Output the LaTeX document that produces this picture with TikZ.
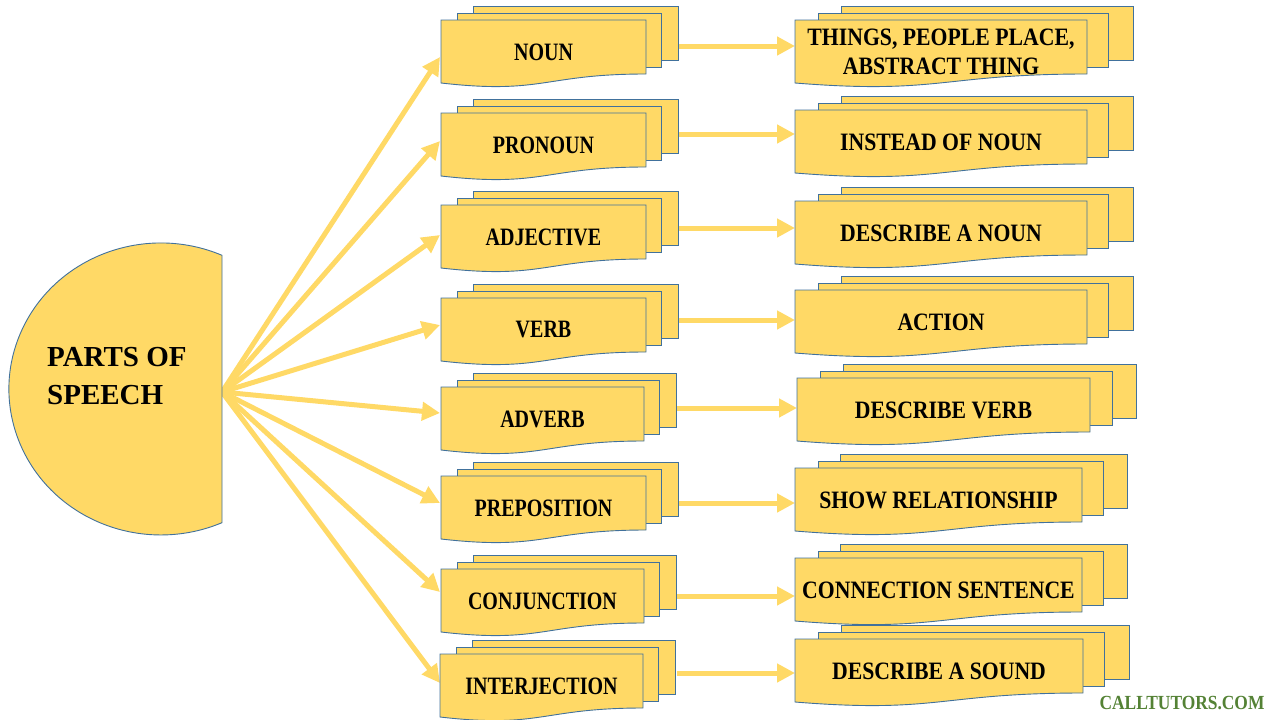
\documentclass[tikz,border=0pt]{standalone}
\usepackage{fontspec}
\setmainfont{Liberation Serif}
\newfontfamily\lfont[FakeStretch=0.8]{Liberation Serif}
\newfontfamily\rfont[FakeStretch=0.87]{Liberation Serif}
\newfontfamily\tfont{Liberation Serif}
\usetikzlibrary{arrows.meta}
\definecolor{gold}{RGB}{255,217,102}
\definecolor{edgeblue}{RGB}{65,113,156}
\definecolor{wmgreen}{RGB}{84,130,53}
\tikzset{
  docline/.style={draw=edgeblue, fill=gold, line width=0.9pt},
  yarrow/.style={draw=gold, line width=5pt, -{Triangle[length=18pt,width=18pt]}},
  ltext/.style={font=\lfont\bfseries\fontsize{25}{28}\selectfont, inner sep=0pt, align=center},
  rtext/.style={font=\rfont\bfseries\fontsize{25}{29}\selectfont, inner sep=0pt, align=center},
}
\newcommand\mdoc[6]{%
  \draw[docline] ({#2+0.16*#4},{#3-14}) rectangle ({#2+1.16*#4},{#3+40});
  \draw[docline] ({#2+0.08*#4},{#3-7}) rectangle ({#2+1.075*#4},{#3+47});
  \draw[docline] (#2,#3) -- ({#2+#4},#3) -- ({#2+#4},{#3+54})
     .. controls ({#2+0.5*#4},{#3+54}) and ({#2+0.5*#4},{#3+74.7}) .. (#2,{#3+63}) -- cycle;
  \node[#5] (#1) at ({#2+0.5*#4},{#3+32}) {#6};
}
\begin{document}
\begin{tikzpicture}[x=1pt,y=-1pt]
\useasboundingbox (0,0) rectangle (1280,720);
% hub and connection points
\coordinate (hub) at (222,392);
\foreach \i/\ty in {1/57,2/141,3/235,4/325,5/413,6/503,7/592,8/683}{
  \coordinate (l\i in) at (440,\ty);
}
\coordinate (l1out) at (679,46);   \coordinate (r1in) at (795,46);
\coordinate (l2out) at (679,134);  \coordinate (r2in) at (795,134);
\coordinate (l3out) at (679,228);  \coordinate (r3in) at (795,228);
\coordinate (l4out) at (679,320);  \coordinate (r4in) at (795,320);
\coordinate (l5out) at (677,408);  \coordinate (r5in) at (797,408);
\coordinate (l6out) at (679,503);  \coordinate (r6in) at (795,503);
\coordinate (l7out) at (677,596);  \coordinate (r7in) at (795,596);
\coordinate (l8out) at (677,673);  \coordinate (r8in) at (795,673);
% arrows
\foreach \i in {1,...,8}{
  \draw[yarrow] (hub) -- (l\i in);
  \draw[yarrow] (l\i out) -- (r\i in);
}
% main shape
\draw[docline] (222,255.3) arc[start angle=-66.3, end angle=-293.7, x radius=152, y radius=146] -- cycle;
\node[font=\tfont\bfseries\fontsize{29}{38}\selectfont, align=left, anchor=west, inner sep=0pt] (title) at (47,376) {PARTS OF\\SPEECH};
% left documents
\mdoc{l1}{441}{20}{205}{ltext}{NOUN}
\mdoc{l2}{441}{113}{205}{ltext}{PRONOUN}
\mdoc{l3}{441}{205}{205}{ltext}{ADJECTIVE}
\mdoc{l4}{441}{298}{205}{ltext}{VERB}
\mdoc{l5}{441}{387}{203}{ltext}{ADVERB}
\mdoc{l6}{441}{476}{205}{ltext}{PREPOSITION}
\mdoc{l7}{441}{569}{203}{ltext}{CONJUNCTION}
\mdoc{l8}{440}{654}{203}{ltext}{INTERJECTION}
% right documents
\mdoc{r1}{795}{20}{292}{rtext}{THINGS, PEOPLE PLACE,\\ABSTRACT THING}
\mdoc{r2}{795}{110}{292}{rtext}{INSTEAD OF NOUN}
\mdoc{r3}{795}{201}{292}{rtext}{DESCRIBE A NOUN}
\mdoc{r4}{795}{290}{292}{rtext}{ACTION}
\mdoc{r5}{797}{378}{293}{rtext}{DESCRIBE VERB}
\mdoc{r6}{795}{468}{287}{rtext}{SHOW RELATIONSHIP}
\mdoc{r7}{795}{558}{287}{rtext}{CONNECTION SENTENCE}
\mdoc{r8}{795}{639}{288}{rtext}{DESCRIBE A SOUND}
% watermark
\node[font=\rfont\bfseries\fontsize{20}{22}\selectfont, text=wmgreen, inner sep=0pt] (wm) at (1182,703) {CALLTUTORS.COM};
\end{tikzpicture}
\end{document}
